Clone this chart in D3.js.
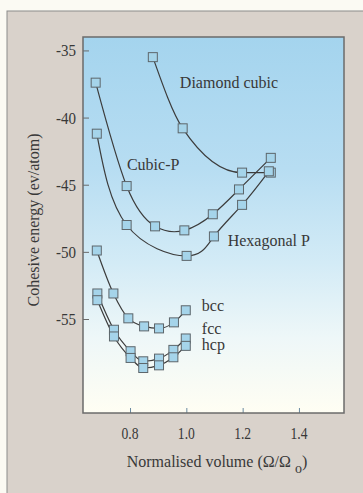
<!DOCTYPE html>
<html>
<head>
<meta charset="utf-8">
<script src="https://cdn.jsdelivr.net/npm/d3@7/dist/d3.min.js"></script>
<style>
  html, body { margin: 0; padding: 0; background: #fbfaf3; }
  svg { display: block; }
  text { font-family: "Liberation Serif", "DejaVu Serif", serif; fill: #383838; }
</style>
</head>
<body>
<svg id="chart" width="363" height="493"></svg>
<script>
// Cohesive energy vs normalised volume for several crystal structures
const diamondVolume = [0.881, 0.987, 1.198, 1.300];
const diamondEnergy = [-35.5, -40.8, -44.1, -44.1];

const cubicPVolume = [0.678, 0.788, 0.889, 0.993, 1.094, 1.187, 1.300];
const cubicPEnergy = [-37.4, -45.1, -48.1, -48.4, -47.2, -45.35, -43.0];

const hexagonalPVolume = [0.682, 0.788, 1.001, 1.098, 1.198, 1.293];
const hexagonalPEnergy = [-41.2, -48.0, -50.3, -48.85, -46.5, -44.0];

const bccVolume = [0.682, 0.741, 0.794, 0.850, 0.903, 0.956, 0.998];
const bccEnergy = [-49.9, -53.1, -54.95, -55.55, -55.7, -55.25, -54.35];

const closePackedVolume = [0.684, 0.743, 0.802, 0.847, 0.903, 0.954, 0.998];
const fccEnergy = [-53.1, -55.8, -57.4, -58.15, -57.95, -57.3, -56.45];
const hcpEnergy = [-53.6, -56.3, -57.9, -58.65, -58.45, -57.85, -57.0];

const xTicks = [0.8, 1.0, 1.2, 1.4];
const yTicks = [-35, -40, -45, -50, -55];

const svg = d3.select("#chart");

// gradient for the plotting area
const defs = svg.append("defs");
const grad = defs.append("linearGradient")
  .attr("id", "plotBg").attr("x1", 0).attr("y1", 0).attr("x2", 0).attr("y2", 1);
[[0, "#a4d4ee"], [0.35, "#b7ddf2"], [0.6, "#d3ebf6"], [0.8, "#eef7f8"], [1, "#fffef3"]]
  .forEach(([o, c]) => grad.append("stop").attr("offset", o).attr("stop-color", c));

// outer panel
svg.append("rect")
  .attr("x", 7).attr("y", 11).attr("width", 362).attr("height", 490)
  .attr("fill", "#d9d2cb").attr("stroke", "#8c8c8c").attr("stroke-width", 1);

const plotLeft = 83, plotRight = 344, plotTop = 37, plotBottom = 413;
const x = d3.scaleLinear().domain([0.633, 1.56]).range([plotLeft, plotRight]);
const y = d3.scaleLinear().domain([-62, -34]).range([plotBottom, plotTop]);

svg.append("rect")
  .attr("x", plotLeft).attr("y", plotTop)
  .attr("width", plotRight - plotLeft).attr("height", plotBottom - plotTop)
  .attr("fill", "url(#plotBg)");

// axes with inward ticks
const yAxis = svg.append("g").attr("transform", `translate(${plotLeft},0)`)
  .call(d3.axisRight(y).tickValues(yTicks).tickSize(6));
yAxis.select(".domain").remove();
yAxis.selectAll("text").remove();
yAxis.selectAll("line").attr("stroke", "#6a6a6a");

const xAxis = svg.append("g").attr("transform", `translate(0,${plotBottom})`)
  .call(d3.axisTop(x).tickValues(xTicks).tickSize(5));
xAxis.select(".domain").remove();
xAxis.selectAll("text").remove();
xAxis.selectAll("line").attr("stroke", "#6a8aa0");

// tick labels (narrow, tall figures)
svg.append("g").selectAll("text").data(yTicks).join("text")
  .attr("x", 76).attr("y", d => y(d) + 6)
  .attr("text-anchor", "end").attr("font-size", 17)
  .attr("textLength", 20).attr("lengthAdjust", "spacingAndGlyphs")
  .text(d => "-" + Math.abs(d));

svg.append("g").selectAll("text").data(xTicks).join("text")
  .attr("x", d => x(d)).attr("y", 439)
  .attr("text-anchor", "middle").attr("font-size", 17)
  .attr("textLength", 17).attr("lengthAdjust", "spacingAndGlyphs")
  .text(d => d.toFixed(1));

// plot frame
svg.append("rect")
  .attr("x", plotLeft).attr("y", plotTop)
  .attr("width", plotRight - plotLeft).attr("height", plotBottom - plotTop)
  .attr("fill", "none").attr("stroke", "#6b6b6b").attr("stroke-width", 1.5);

// axis titles
const xt = svg.append("text").attr("x", 217).attr("y", 467)
  .attr("text-anchor", "middle").attr("font-size", 16);
xt.append("tspan").text("Normalised volume (\u03A9/\u03A9 ");
xt.append("tspan").attr("dy", 6).attr("font-size", 14).text("o");
xt.append("tspan").attr("dy", -6).text(")");

svg.append("text")
  .attr("transform", "translate(39,220) rotate(-90)")
  .attr("text-anchor", "middle").attr("font-size", 16)
  .text("Cohesive energy (ev/atom)");

// curves and markers
const series = [
  { v: diamondVolume, e: diamondEnergy, curve: d3.curveMonotoneX },
  { v: cubicPVolume, e: cubicPEnergy, curve: d3.curveNatural },
  { v: hexagonalPVolume, e: hexagonalPEnergy, curve: d3.curveNatural },
  { v: bccVolume, e: bccEnergy, curve: d3.curveMonotoneX },
  { v: closePackedVolume, e: fccEnergy, curve: d3.curveMonotoneX },
  { v: closePackedVolume, e: hcpEnergy, curve: d3.curveMonotoneX }
];

series.forEach(s => {
  const pts = s.v.map((v, i) => [v, s.e[i]]);
  svg.append("path")
    .attr("d", d3.line().x(d => x(d[0])).y(d => y(d[1])).curve(s.curve)(pts))
    .attr("fill", "none").attr("stroke", "#3c3c3c").attr("stroke-width", 1.2);
});

const sq = 9;
series.forEach(s => {
  const pts = s.v.map((v, i) => [v, s.e[i]]);
  svg.append("g").selectAll("rect").data(pts).join("rect")
    .attr("x", d => x(d[0]) - sq / 2).attr("y", d => y(d[1]) - sq / 2)
    .attr("width", sq).attr("height", sq)
    .attr("fill", "#a5d4ea").attr("stroke", "#5d666b").attr("stroke-width", 1);
});

// structure labels
const labels = [
  { t: "Diamond cubic", v: 0.977, e: -37.8 },
  { t: "Cubic-P", v: 0.789, e: -43.9 },
  { t: "Hexagonal P", v: 1.147, e: -49.56 },
  { t: "bcc", v: 1.055, e: -54.38 },
  { t: "fcc", v: 1.055, e: -56.1 },
  { t: "hcp", v: 1.055, e: -57.3 }
];
svg.append("g").selectAll("text").data(labels).join("text")
  .attr("x", d => x(d.v)).attr("y", d => y(d.e))
  .attr("font-size", 16).attr("fill", "#3f4448")
  .text(d => d.t);
</script>
</body>
</html>
